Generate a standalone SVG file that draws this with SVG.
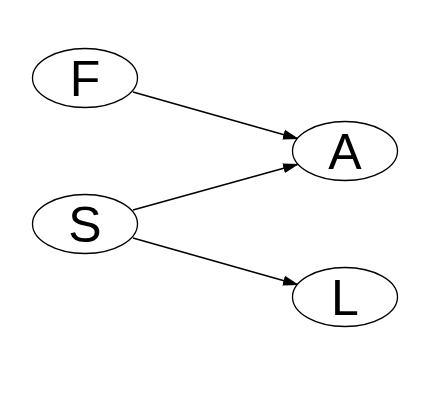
<svg xmlns="http://www.w3.org/2000/svg" width="430" height="404" viewBox="0 0 430 404">
<style>
.node ellipse{fill:#fff;stroke:#000;stroke-width:1.3}
.node text{font-family:"Liberation Sans",Arial,sans-serif;font-size:50px;text-anchor:middle;fill:#000}
.edges line{stroke:#000;stroke-width:1.6}
</style>
<defs>
<marker id="arr" markerUnits="userSpaceOnUse" markerWidth="16" markerHeight="12" viewBox="0 0 16 12" refX="16" refY="6" orient="auto">
<path d="M0,1 L16,6 L0,11 Z" fill="#000"/>
</marker>
</defs>
<rect width="430" height="404" fill="#fff"/>
<g id="edges" class="edges">
<line x1="133" y1="92" x2="299" y2="139" marker-end="url(#arr)"/>
<line x1="133" y1="210" x2="299" y2="164" marker-end="url(#arr)"/>
<line x1="133" y1="238" x2="299" y2="285" marker-end="url(#arr)"/>
</g>
<g id="F" class="node"><ellipse cx="85" cy="78" rx="52.5" ry="29.5"/><text x="85" y="96">F</text></g>
<g id="A" class="node"><ellipse cx="345" cy="151" rx="52.5" ry="29.5"/><text x="345" y="169">A</text></g>
<g id="S" class="node"><ellipse cx="85" cy="224" rx="52.5" ry="29.5"/><text x="85" y="242">S</text></g>
<g id="L" class="node"><ellipse cx="345" cy="297" rx="52.5" ry="29.5"/><text x="345" y="315">L</text></g>
</svg>
